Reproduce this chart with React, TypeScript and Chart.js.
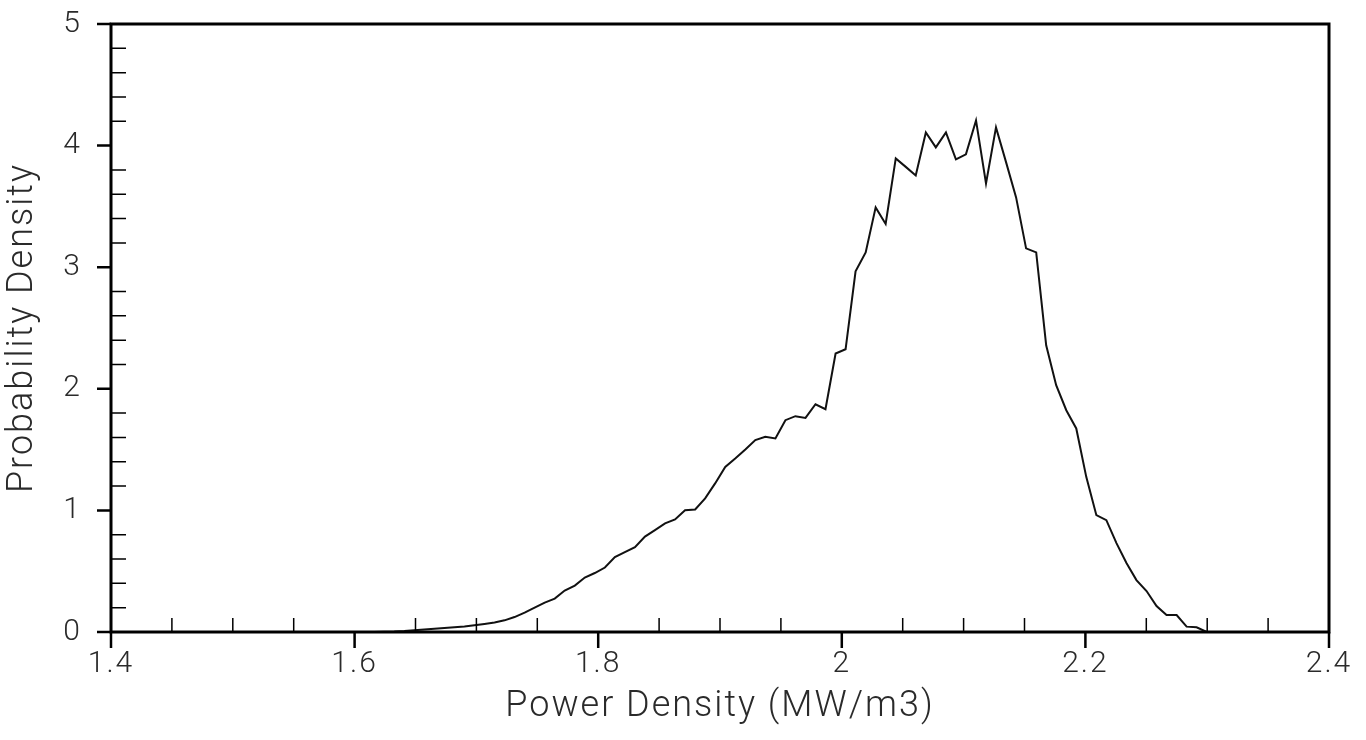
import React, { useEffect, useRef } from 'react';
import { Chart, registerables } from 'chart.js';

Chart.register(...registerables);

// Power density bin centres (MW/m3)
const powerDensity = [
  1.6079, 1.6161, 1.6243, 1.6325, 1.6408, 1.6490, 1.6572, 1.6655, 1.6737, 1.6819,
  1.6902, 1.6984, 1.7066, 1.7149, 1.7231, 1.7313, 1.7396, 1.7478, 1.7561, 1.7643,
  1.7725, 1.7808, 1.7890, 1.7972, 1.8055, 1.8137, 1.8219, 1.8302, 1.8384, 1.8466,
  1.8549, 1.8631, 1.8713, 1.8796, 1.8878, 1.8960, 1.9043, 1.9125, 1.9208, 1.9290,
  1.9372, 1.9455, 1.9537, 1.9619, 1.9702, 1.9784, 1.9866, 1.9949, 2.0031, 2.0113,
  2.0196, 2.0278, 2.0360, 2.0443, 2.0525, 2.0607, 2.0690, 2.0772, 2.0855, 2.0937,
  2.1019, 2.1102, 2.1184, 2.1266, 2.1349, 2.1431, 2.1513, 2.1596, 2.1678, 2.1760,
  2.1843, 2.1925, 2.2007, 2.2090, 2.2172, 2.2255, 2.2337, 2.2419, 2.2502, 2.2584,
  2.2666, 2.2749, 2.2831, 2.2913, 2.2996,
];

// Probability density values
const probabilityDensity = [
  0, 0, 0.002, 0.004, 0.008, 0.014, 0.020, 0.027, 0.033, 0.039,
  0.045, 0.055, 0.066, 0.078, 0.096, 0.123, 0.160, 0.200, 0.242, 0.275,
  0.341, 0.382, 0.448, 0.485, 0.530, 0.616, 0.657, 0.698, 0.785, 0.838,
  0.893, 0.926, 1.002, 1.008, 1.099, 1.222, 1.358, 1.427, 1.501, 1.578,
  1.605, 1.592, 1.742, 1.775, 1.761, 1.873, 1.832, 2.290, 2.325, 2.966,
  3.122, 3.492, 3.356, 3.895, 3.825, 3.755, 4.108, 3.985, 4.108, 3.887,
  3.928, 4.207, 3.689, 4.150, 3.862, 3.574, 3.155, 3.122, 2.358, 2.030,
  1.824, 1.674, 1.276, 0.961, 0.920, 0.731, 0.567, 0.427, 0.337, 0.214,
  0.140, 0.140, 0.044, 0.039, 0,
];

const xMajorTicks = [1.4, 1.6, 1.8, 2.0, 2.2, 2.4];
const xTickLabels = ['1.4', '1.6', '1.8', '2', '2.2', '2.4'];
const xMinorTicks = [1.45, 1.5, 1.55, 1.65, 1.7, 1.75, 1.85, 1.9, 1.95, 2.05, 2.1, 2.15, 2.25, 2.3, 2.35];
const yMajorTicks = [0, 1, 2, 3, 4, 5];
const yTickLabels = ['0', '1', '2', '3', '4', '5'];
const yMinorTicks = [0.2, 0.4, 0.6, 0.8, 1.2, 1.4, 1.6, 1.8, 2.2, 2.4, 2.6, 2.8, 3.2, 3.4, 3.6, 3.8, 4.2, 4.4, 4.6, 4.8];

const FONT = "Roboto, 'Liberation Sans Narrow', 'DejaVu Sans Condensed', sans-serif";
const TEXT_COLOR = '#2a2a2a';

const spacingPlugin = {
  id: 'letterSpacing',
  beforeDraw(chart: any) {
    const ctx = chart.ctx as any;
    if ('letterSpacing' in ctx) ctx.letterSpacing = '2px';
  },
};

const framePlugin = {
  id: 'frameTicks',
  afterDatasetsDraw(chart: any) {
    const { ctx, chartArea: a, scales } = chart;
    const x = scales.x;
    const y = scales.y;
    ctx.save();
    ctx.strokeStyle = '#000';
    ctx.lineCap = 'butt';
    // minor ticks (inward)
    ctx.lineWidth = 1.5;
    ctx.beginPath();
    xMinorTicks.forEach((v) => {
      const px = x.getPixelForValue(v);
      ctx.moveTo(px, a.bottom);
      ctx.lineTo(px, a.bottom - 14);
    });
    yMinorTicks.forEach((v) => {
      const py = y.getPixelForValue(v);
      ctx.moveTo(a.left, py);
      ctx.lineTo(a.left + 15, py);
    });
    ctx.stroke();
    // major ticks (outward)
    ctx.lineWidth = 2.5;
    ctx.beginPath();
    xMajorTicks.forEach((v) => {
      const px = x.getPixelForValue(v);
      ctx.moveTo(px, a.bottom);
      ctx.lineTo(px, a.bottom + 16);
    });
    yMajorTicks.forEach((v) => {
      const py = y.getPixelForValue(v);
      ctx.moveTo(a.left, py);
      ctx.lineTo(a.left - 14, py);
    });
    ctx.stroke();
    // frame
    ctx.lineWidth = 3;
    ctx.strokeRect(a.left, a.top, a.right - a.left, a.bottom - a.top);
    ctx.restore();
  },
};

export default function App() {
  const canvasRef = useRef<HTMLCanvasElement | null>(null);

  useEffect(() => {
    if (!canvasRef.current) return;
    const points = powerDensity.map((xv, i) => ({ x: xv, y: probabilityDensity[i] }));
    const chart = new Chart(canvasRef.current, {
      type: 'line',
      data: {
        datasets: [
          {
            label: 'Probability Density',
            data: points,
            borderColor: '#111',
            borderWidth: 2,
            pointRadius: 0,
            tension: 0,
            fill: false,
          },
        ],
      },
      options: {
        responsive: false,
        animation: false,
        devicePixelRatio: 1,
        parsing: false as any,
        layout: { padding: { top: 24, right: 37, left: 0, bottom: 0 } },
        plugins: {
          legend: { display: false },
          tooltip: { enabled: false },
        },
        scales: {
          x: {
            type: 'linear',
            min: 1.4,
            max: 2.4,
            grid: { display: false, drawTicks: false },
            border: { display: false },
            afterBuildTicks: (scale: any) => {
              scale.ticks = xMajorTicks.map((v) => ({ value: v }));
            },
            afterFit: (scale: any) => {
              scale.height = 108;
              scale.paddingLeft = 0;
              scale.paddingRight = 0;
            },
            ticks: {
              autoSkip: false,
              maxRotation: 0,
              padding: 14,
              color: TEXT_COLOR,
              font: { family: FONT, size: 30, weight: '300' },
              callback: (v: any) => {
                const i = xMajorTicks.findIndex((t) => Math.abs(t - Number(v)) < 1e-6);
                return i >= 0 ? xTickLabels[i] : '';
              },
            },
            title: {
              display: true,
              text: 'Power Density (MW/m3)',
              color: TEXT_COLOR,
              font: { family: FONT, size: 36, weight: '300' },
              padding: { top: 0, bottom: 11 },
            },
          },
          y: {
            type: 'linear',
            min: 0,
            max: 5,
            grid: { display: false, drawTicks: false },
            border: { display: false },
            afterBuildTicks: (scale: any) => {
              scale.ticks = yMajorTicks.map((v) => ({ value: v }));
            },
            afterFit: (scale: any) => {
              scale.width = 111;
              scale.paddingTop = 0;
              scale.paddingBottom = 0;
            },
            ticks: {
              padding: 29,
              color: TEXT_COLOR,
              font: { family: FONT, size: 30, weight: '300' },
              callback: (v: any) => {
                const i = yMajorTicks.findIndex((t) => Math.abs(t - Number(v)) < 1e-6);
                return i >= 0 ? yTickLabels[i] : '';
              },
            },
            title: {
              display: true,
              text: 'Probability Density',
              color: TEXT_COLOR,
              font: { family: FONT, size: 36, weight: '300' },
              padding: { top: 1, bottom: 0 },
            },
          },
        },
      },
      plugins: [spacingPlugin, framePlugin],
    });
    return () => chart.destroy();
  }, []);

  return (
    <div style={{ position: 'absolute', left: 0, top: 0, width: 1366, height: 740, background: '#fff' }}>
      <canvas ref={canvasRef} width={1366} height={740} style={{ display: 'block' }} />
    </div>
  );
}
